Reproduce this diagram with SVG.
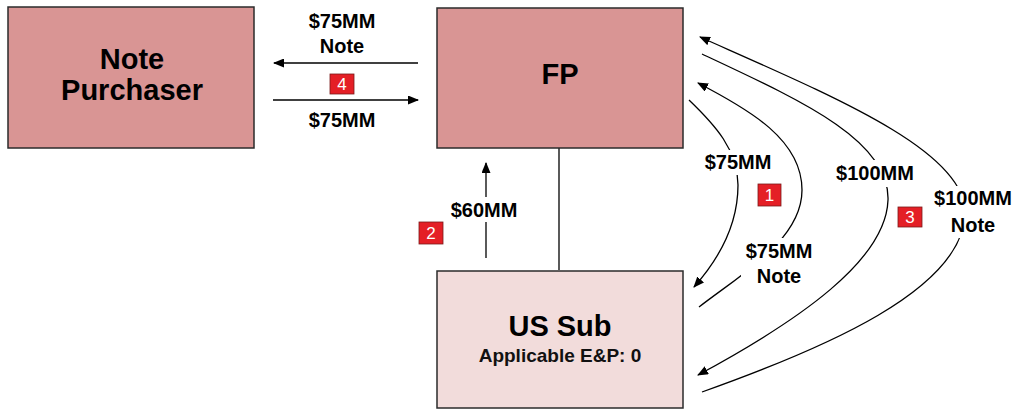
<svg xmlns="http://www.w3.org/2000/svg" width="1016" height="411" viewBox="0 0 1016 411">
<style>
.box{stroke:#2b2b2b;stroke-width:1.5}
.dark{fill:#d99594}
.light{fill:#f2dcdb}
.ttl{font-family:"Liberation Sans",Arial,sans-serif;font-weight:bold;font-size:29px;fill:#000;text-anchor:middle}
.sub{font-family:"Liberation Sans",Arial,sans-serif;font-weight:bold;font-size:19px;fill:#111;text-anchor:middle}
.lbl{font-family:"Liberation Sans",Arial,sans-serif;font-weight:bold;font-size:20px;fill:#000;text-anchor:middle}
.ln{fill:none;stroke:#000;stroke-width:1.3}
.mask{fill:#fff}
.badge{fill:#e41f26;stroke:#7a1a1a;stroke-width:0.8}
.num{font-family:"Liberation Sans",Arial,sans-serif;font-size:17px;fill:#fff;text-anchor:middle}
</style>
<defs>
<marker id="ah" markerWidth="11" markerHeight="9" refX="10" refY="4.5" orient="auto" markerUnits="userSpaceOnUse">
<path d="M0,0 L11,4.5 L0,9 z" fill="#000"/>
</marker>
</defs>
<g id="connectors">
<line class="ln" x1="418" y1="63" x2="274" y2="63" marker-end="url(#ah)"/>
<line class="ln" x1="273" y1="100" x2="418" y2="100" marker-end="url(#ah)"/>
<line class="ln" x1="559" y1="148" x2="559" y2="270"/>
<line class="ln" x1="486" y1="258" x2="486" y2="163" marker-end="url(#ah)"/>
<path class="ln" d="M689,100 C715,125 738,150 738,185 C738,225 718,260 694,287" marker-end="url(#ah)"/>
<path class="ln" d="M699,307 C740,275 802,240 802,190 C802,140 750,110 698,83" marker-end="url(#ah)"/>
<path class="ln" d="M702,54 C800,100 890,140 888,200 C886,260 800,320 698,375" marker-end="url(#ah)"/>
<path class="ln" d="M702,392 C820,350 965,290 965,212 C965,150 830,95 700,37" marker-end="url(#ah)"/>
</g>
<g id="note-purchaser">
<rect class="box dark" x="8" y="7" width="246" height="141"/>
<text class="ttl" x="132" y="100"><tspan x="132" y="69">Note</tspan><tspan x="132" y="100">Purchaser</tspan></text>
</g>
<g id="fp">
<rect class="box dark" x="437" y="8" width="246" height="140"/>
<text class="ttl" x="560" y="84">FP</text>
</g>
<g id="us-sub">
<rect class="box light" x="437" y="271" width="246" height="137"/>
<text class="ttl" x="560" y="336">US Sub</text>
<text class="sub" x="560" y="362">Applicable E&amp;P: 0</text>
</g>
<g id="labels">
<text class="lbl" x="342" y="28">$75MM</text>
<text class="lbl" x="342" y="53">Note</text>
<text class="lbl" x="342" y="127">$75MM</text>
<rect class="mask" x="448" y="197" width="72" height="25"/>
<text class="lbl" x="484" y="217">$60MM</text>
<rect class="mask" x="703" y="150" width="71" height="25"/>
<text class="lbl" x="738" y="169">$75MM</text>
<rect class="mask" x="741" y="238" width="76" height="52"/>
<text class="lbl" x="779" y="258">$75MM</text>
<text class="lbl" x="779" y="283">Note</text>
<rect class="mask" x="832" y="160" width="86" height="27"/>
<text class="lbl" x="875" y="180">$100MM</text>
<rect class="mask" x="932" y="186" width="82" height="52"/>
<text class="lbl" x="973" y="205">$100MM</text>
<text class="lbl" x="973" y="232">Note</text>
</g>
<g id="badges">
<rect class="badge" x="330" y="74" width="24" height="20"/>
<text class="num" x="342" y="90">4</text>
<rect class="badge" x="419" y="222" width="24" height="22"/>
<text class="num" x="431" y="239">2</text>
<rect class="badge" x="758" y="184" width="23" height="22"/>
<text class="num" x="769.5" y="201">1</text>
<rect class="badge" x="898" y="207" width="24" height="20"/>
<text class="num" x="910" y="223">3</text>
</g>
</svg>
